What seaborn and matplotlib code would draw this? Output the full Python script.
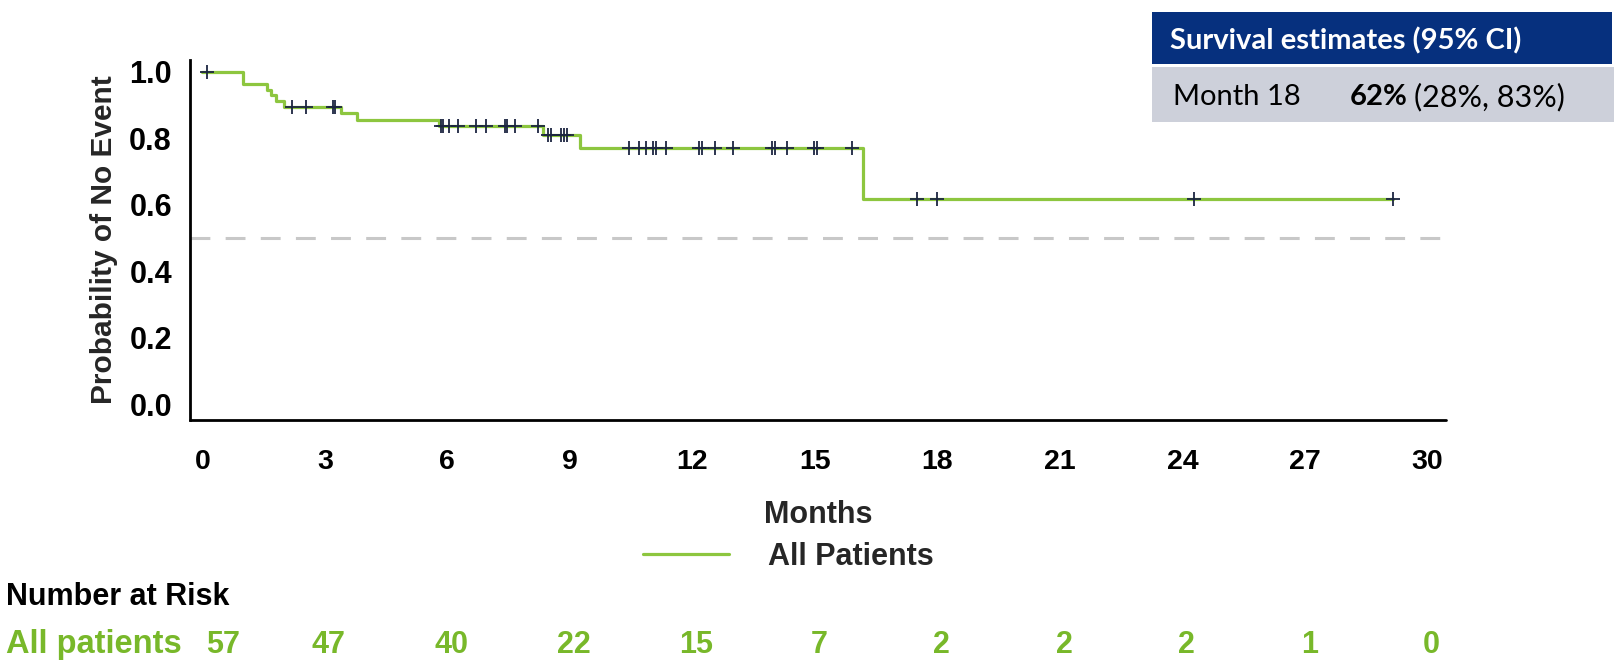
import numpy as np
import pandas as pd
import matplotlib
matplotlib.use("Agg")
import matplotlib.pyplot as plt
import matplotlib.transforms as mtransforms
from matplotlib.lines import Line2D
from matplotlib.patches import Rectangle
import seaborn as sns

# Kaplan-Meier estimate: month of each change and the level after it
step_months = [0.0, 0.99, 1.58, 1.68, 1.80, 2.01, 3.40, 3.80, 5.79, 8.34, 9.26, 16.17, 29.15]
survival = [1.0, 0.965, 0.947, 0.930, 0.912, 0.895, 0.878, 0.854, 0.836, 0.809, 0.770, 0.619, 0.619]

# censored observations (months)
censor_months = [0.12, 2.20, 2.54, 3.21, 3.26, 5.85, 5.90, 6.05, 6.25, 6.70, 6.95,
                 7.40, 7.47, 7.65, 8.22, 8.46, 8.55, 8.78, 8.86, 8.94, 10.44, 10.70,
                 10.87, 11.03, 11.10, 11.36, 12.17, 12.23, 12.56, 13.00, 13.95, 14.03,
                 14.31, 14.97, 15.05, 15.91, 17.50, 17.99, 24.27, 29.15]

x_ticks = [0, 3, 6, 9, 12, 15, 18, 21, 24, 27, 30]
y_ticks = [0.0, 0.2, 0.4, 0.6, 0.8, 1.0]
reference_level = 0.5

risk_label = "All patients"
risk_counts = [57, 47, 40, 22, 15, 7, 2, 2, 2, 1, 0]

series_label = "All Patients"
estimate_title = "Survival estimates (95% CI)"
estimate_time = "Month 18"
estimate_value = "62%"
estimate_ci = "(28%, 83%)"

GREEN = "#8DC63F"
RISK_GREEN = "#78B82A"
NAVY = "#1C2541"
HEADER = "#06307E"
ROW = "#CDD0DA"
DASH = "#C8C8C8"

sns.set_theme(style="white")
plt.rcParams["font.family"] = ["Liberation Sans", "DejaVu Sans"]
plt.rcParams["font.weight"] = "bold"

W, H = 1614, 660
fig = plt.figure(figsize=(W / 100, H / 100), dpi=100)
ax = fig.add_axes([190 / W, (H - 420) / H, (1446 - 190) / W, (420 - 60) / H])

curve = pd.DataFrame({"month": step_months, "survival": survival})
sns.lineplot(data=curve, x="month", y="survival", drawstyle="steps-post",
             color=GREEN, linewidth=2.3, estimator=None, ax=ax, zorder=2, legend=False)

idx = np.searchsorted(step_months, censor_months, side="right") - 1
censor = pd.DataFrame({"month": censor_months, "survival": np.asarray(survival)[idx]})
sns.scatterplot(data=censor, x="month", y="survival", marker="+", s=110,
                color=NAVY, linewidth=1.3, ax=ax, zorder=3, legend=False)

ax.axhline(reference_level, color=DASH, linewidth=2.2, linestyle=(0, (6.5, 5)), zorder=1)

ax.set_xlim(-0.3, 30.45)
ax.set_ylim(-0.047, 1.036)
ax.set_xticks(x_ticks)
ax.set_yticks(y_ticks)
ax.set_yticklabels([f"{v:.1f}" for v in y_ticks])
ax.set_xticklabels([str(v) for v in x_ticks])

for side in ("top", "right"):
    ax.spines[side].set_visible(False)
ax.spines["left"].set_linewidth(2.0)
ax.spines["left"].set_color("black")
# bottom axis line drawn separately so the ticks hang slightly below it
ax.spines["bottom"].set_position(("outward", 5))
ax.spines["bottom"].set_color("none")
ax.axhline(ax.get_ylim()[0], color="black", linewidth=2.0, clip_on=False, zorder=4)

ax.tick_params(axis="both", direction="out", length=11, width=1.6, color="black",
               labelcolor="black")
ax.tick_params(axis="x", pad=5, labelsize=20.5)
ax.tick_params(axis="y", pad=2, labelsize=22)
for lab in ax.get_xticklabels() + ax.get_yticklabels():
    lab.set_fontweight("bold")

ax.set_ylabel("Probability of No Event", fontsize=21.5, fontweight="bold", labelpad=8)
ax.set_xlabel("Months", fontsize=22, fontweight="bold", labelpad=18)

handle = Line2D([], [], color=GREEN, linewidth=2.3)
ax.legend([handle], [series_label], loc="center left", frameon=False,
          bbox_to_anchor=(643 / W, (H - 557) / H), bbox_transform=fig.transFigure,
          borderpad=0, borderaxespad=0, handlelength=2.8, handletextpad=1.3,
          prop={"size": 22, "weight": "bold"})

# number-at-risk table
fig.text(6 / W, (H - 597) / H, "Number at Risk", fontsize=22, fontweight="bold",
         color="black", ha="left", va="center")
fig.text(6 / W, (H - 645) / H, risk_label, fontsize=23.5, fontweight="bold",
         color=RISK_GREEN, ha="left", va="center")
row_tf = mtransforms.blended_transform_factory(ax.transData, fig.transFigure)
for i, (m, n) in enumerate(zip(x_ticks, risk_counts)):
    xm = m + (0.5 if i == 0 else 0.1)
    ax.text(xm, (H - 645) / H, str(n), transform=row_tf, fontsize=22,
            fontweight="bold", color=RISK_GREEN, ha="center", va="center", clip_on=False)

# survival estimate box
fig.patches.append(Rectangle((1152 / W, (H - 64) / H), (1612 - 1152) / W, 52 / H,
                             transform=fig.transFigure, facecolor=HEADER, edgecolor="none"))
fig.patches.append(Rectangle((1152 / W, (H - 122) / H), (W - 1152) / W, 55 / H,
                             transform=fig.transFigure, facecolor=ROW, edgecolor="none"))
box_font = ["Lato", "DejaVu Sans"]
fig.text(1170 / W, (H - 41) / H, estimate_title, family=box_font, fontsize=21,
         fontweight="bold", color="white", ha="left", va="center")
fig.text(1173 / W, (H - 97) / H, estimate_time, family=box_font, fontsize=21,
         fontweight="normal", color="black", ha="left", va="center")
val = fig.text(1350 / W, (H - 97) / H, estimate_value, family=box_font, fontsize=21,
               fontweight="bold", color="black", ha="left", va="center")
fig.canvas.draw()
bb = val.get_window_extent(renderer=fig.canvas.get_renderer())
fig.text((bb.x1 + 6) / W, (H - 97) / H, estimate_ci, family=box_font, fontsize=22,
         fontweight="normal", color="black", ha="left", va="center")

fig.savefig("out.png", dpi=100, facecolor="white")
